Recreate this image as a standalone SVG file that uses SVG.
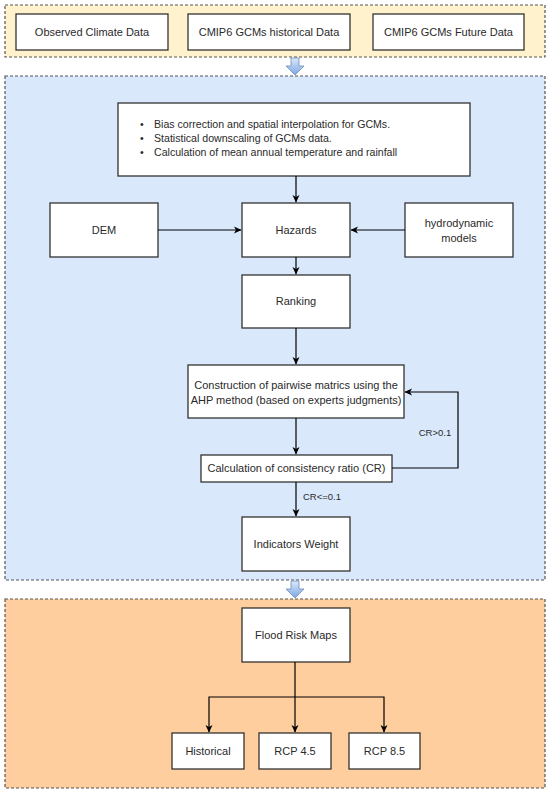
<svg xmlns="http://www.w3.org/2000/svg" width="550" height="795" viewBox="0 0 550 795">
<style>
text{font-family:"Liberation Sans",Arial,sans-serif;fill:#2a2a2a;font-size:11px}
.c{text-anchor:middle}
.box{fill:#fff;stroke:#333;stroke-width:1.3}
.cont{stroke:#555;stroke-width:1.2;stroke-dasharray:3,2}
.ln{fill:none;stroke:#000;stroke-width:1.2}
.sm{font-size:9.5px}
.bl{font-size:10.6px}
</style>
<defs>
<marker id="ah" markerWidth="8" markerHeight="8" refX="7" refY="4" orient="auto" markerUnits="userSpaceOnUse">
<path d="M0,0.5 L7.5,4 L0,7.5 L2,4 Z" fill="#000"/>
</marker>
<linearGradient id="bg" x1="0" y1="0" x2="0" y2="1">
<stop offset="0" stop-color="#dae8fc"/>
<stop offset="1" stop-color="#7ea6e0"/>
</linearGradient>
</defs>
<g id="containers">
<rect class="cont" x="5" y="5" width="540" height="52" fill="#fff2cc"/>
<rect class="cont" x="5" y="76" width="540" height="504" fill="#dae8fc"/>
<rect class="cont" x="5" y="599" width="540" height="189" fill="#ffce9f"/>
</g>
<g id="blockarrows">
<path d="M291,58 h8 v8 h5 l-9,9 l-9,-9 h5 z" fill="url(#bg)" stroke="#6c8ebf" stroke-width="0.8"/>
<path d="M291,581 h8 v8 h5 l-9,9 l-9,-9 h5 z" fill="url(#bg)" stroke="#6c8ebf" stroke-width="0.8"/>
</g>
<g id="n-observed"><rect class="box" x="16" y="14" width="152" height="36"/><text class="c" x="92" y="36">Observed Climate Data</text></g>
<g id="n-hist-data"><rect class="box" x="188" y="14" width="162" height="36"/><text class="c" x="269" y="36">CMIP6 GCMs historical Data</text></g>
<g id="n-future-data"><rect class="box" x="373" y="14" width="151" height="36"/><text class="c" x="448.5" y="36">CMIP6 GCMs Future Data</text></g>
<g id="n-bias"><rect class="box" x="118" y="103" width="352" height="73"/>
<text class="bl" x="140" y="128">•</text><text class="bl" x="154" y="128">Bias correction and spatial interpolation for GCMs.</text>
<text class="bl" x="140" y="142">•</text><text class="bl" x="154" y="142">Statistical downscaling of GCMs data.</text>
<text class="bl" x="140" y="156">•</text><text class="bl" x="154" y="156">Calculation of mean annual temperature and rainfall</text>
</g>
<g id="n-dem"><rect class="box" x="50" y="203" width="108" height="54"/><text class="c" x="104" y="234">DEM</text></g>
<g id="n-hazards"><rect class="box" x="242" y="203" width="108" height="54"/><text class="c" x="296" y="234">Hazards</text></g>
<g id="n-hydro"><rect class="box" x="405" y="203" width="108" height="54"/><text class="c" x="459" y="227">hydrodynamic</text><text class="c" x="459" y="242">models</text></g>
<g id="n-ranking"><rect class="box" x="242" y="275" width="108" height="53"/><text class="c" x="296" y="305">Ranking</text></g>
<g id="n-construction"><rect class="box" x="188" y="365" width="216" height="53"/><text class="c" x="296" y="389">Construction of pairwise matrics using the</text><text class="c" x="296" y="404">AHP method (based on experts judgments)</text></g>
<g id="n-calc"><rect class="box" x="201" y="455" width="191" height="27"/><text class="c" x="296.5" y="472">Calculation of consistency ratio (CR)</text></g>
<g id="n-weight"><rect class="box" x="242" y="517" width="108" height="54"/><text class="c" x="296" y="548">Indicators Weight</text></g>
<g id="n-flood"><rect class="box" x="242" y="608" width="108" height="54"/><text class="c" x="296" y="639">Flood Risk Maps</text></g>
<g id="n-historical"><rect class="box" x="172" y="733" width="72" height="36"/><text class="c" x="208" y="755">Historical</text></g>
<g id="n-rcp45"><rect class="box" x="259" y="733" width="72" height="36"/><text class="c" x="295" y="755">RCP 4.5</text></g>
<g id="n-rcp85"><rect class="box" x="349" y="733" width="71" height="36"/><text class="c" x="384.5" y="755">RCP 8.5</text></g>
<g id="connectors">
<line class="ln" x1="296" y1="176" x2="296" y2="202" marker-end="url(#ah)"/>
<line class="ln" x1="158" y1="230" x2="241" y2="230" marker-end="url(#ah)"/>
<line class="ln" x1="405" y1="230" x2="351" y2="230" marker-end="url(#ah)"/>
<line class="ln" x1="296" y1="257" x2="296" y2="274" marker-end="url(#ah)"/>
<line class="ln" x1="296" y1="328" x2="296" y2="364" marker-end="url(#ah)"/>
<line class="ln" x1="296" y1="418" x2="296" y2="454" marker-end="url(#ah)"/>
<polyline class="ln" points="392,468 458,468 458,392 405,392" marker-end="url(#ah)"/>
<text class="c sm" x="435" y="436">CR&gt;0.1</text>
<line class="ln" x1="296" y1="482" x2="296" y2="516" marker-end="url(#ah)"/>
<text class="sm" x="303" y="500">CR&lt;=0.1</text>
<line class="ln" x1="295" y1="662" x2="295" y2="732" marker-end="url(#ah)"/>
<polyline class="ln" points="295,697 209,697 209,732" marker-end="url(#ah)"/>
<polyline class="ln" points="295,697 384,697 384,732" marker-end="url(#ah)"/>
</g>
</svg>
